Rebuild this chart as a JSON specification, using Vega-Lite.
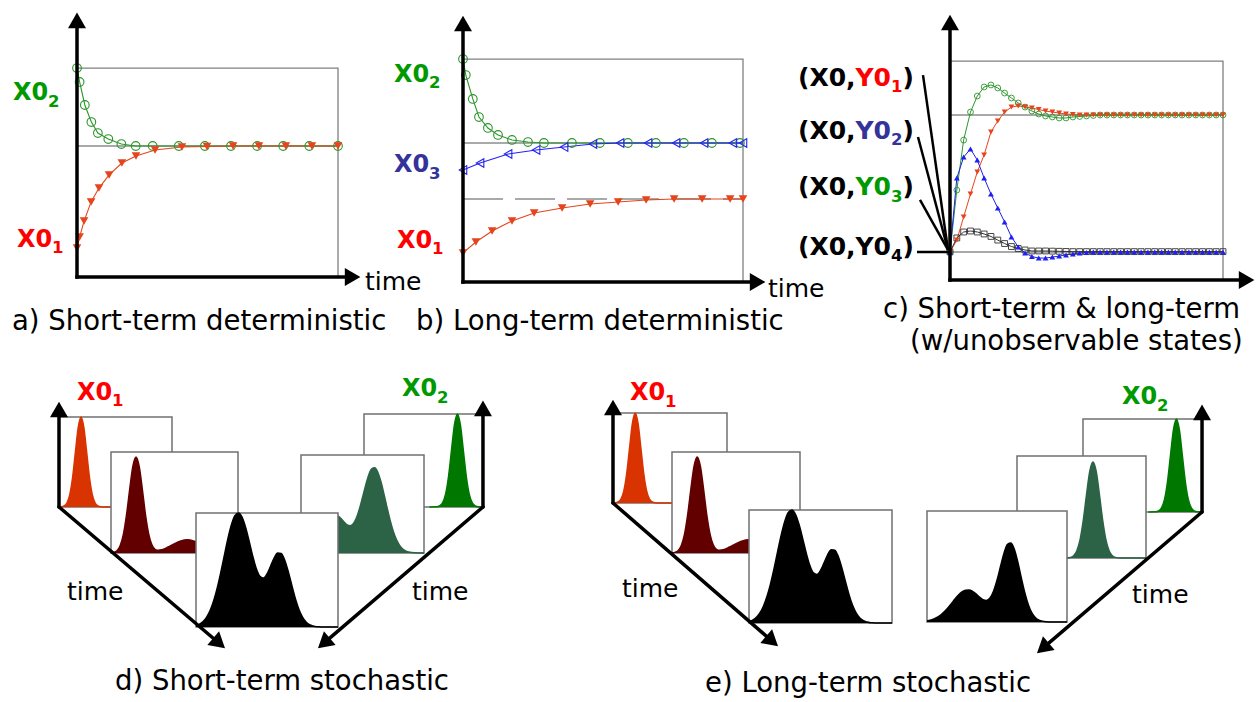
{
"$schema":"https://vega.github.io/schema/vega-lite/v6.json",
"background":"white",
"padding":0,
"config":{"view":{"stroke":null},"legend":{"disable":true},"text":{"font":"DejaVu Sans"},"area":{"opacity":1}},
"datasets":{
"curves":[
{"g":"a","s":"X0_2","t":0,"v":1.595},{"g":"a","s":"X0_2","t":0.1,"v":1.489},{"g":"a","s":"X0_2","t":0.3,"v":1.313},{"g":"a","s":"X0_2","t":0.55,"v":1.183},{"g":"a","s":"X0_2","t":0.8,"v":1.099},{"g":"a","s":"X0_2","t":1.2,"v":1.053},{"g":"a","s":"X0_2","t":1.7,"v":1.015},{"g":"a","s":"X0_2","t":2.25,"v":1.0},{"g":"a","s":"X0_2","t":2.9,"v":1.0},{"g":"a","s":"X0_2","t":3.9,"v":1.0},{"g":"a","s":"X0_2","t":4.9,"v":1.0},{"g":"a","s":"X0_2","t":5.9,"v":1.0},{"g":"a","s":"X0_2","t":6.9,"v":1.0},{"g":"a","s":"X0_2","t":7.9,"v":1.0},{"g":"a","s":"X0_2","t":8.9,"v":1.0},{"g":"a","s":"X0_2","t":10,"v":1.0},
{"g":"a","s":"X0_1","t":0,"v":0.221},{"g":"a","s":"X0_1","t":0.1,"v":0.305},{"g":"a","s":"X0_1","t":0.27,"v":0.427},{"g":"a","s":"X0_1","t":0.54,"v":0.573},{"g":"a","s":"X0_1","t":0.84,"v":0.679},{"g":"a","s":"X0_1","t":1.23,"v":0.779},{"g":"a","s":"X0_1","t":1.72,"v":0.87},{"g":"a","s":"X0_1","t":2.26,"v":0.924},{"g":"a","s":"X0_1","t":2.99,"v":0.969},{"g":"a","s":"X0_1","t":4.02,"v":0.992},{"g":"a","s":"X0_1","t":4.98,"v":0.996},{"g":"a","s":"X0_1","t":5.98,"v":1.0},{"g":"a","s":"X0_1","t":6.97,"v":1.0},{"g":"a","s":"X0_1","t":8.0,"v":1.0},{"g":"a","s":"X0_1","t":9.0,"v":1.0},{"g":"a","s":"X0_1","t":10,"v":1.0},
{"g":"b","s":"X0_2","t":0,"v":1.604},{"g":"b","s":"X0_2","t":0.1,"v":1.489},{"g":"b","s":"X0_2","t":0.35,"v":1.317},{"g":"b","s":"X0_2","t":0.57,"v":1.187},{"g":"b","s":"X0_2","t":0.89,"v":1.108},{"g":"b","s":"X0_2","t":1.25,"v":1.058},{"g":"b","s":"X0_2","t":1.75,"v":1.022},{"g":"b","s":"X0_2","t":2.32,"v":1.007},{"g":"b","s":"X0_2","t":2.89,"v":1.0},{"g":"b","s":"X0_2","t":3.89,"v":1.0},{"g":"b","s":"X0_2","t":4.89,"v":1.0},{"g":"b","s":"X0_2","t":5.89,"v":1.0},{"g":"b","s":"X0_2","t":6.89,"v":1.0},{"g":"b","s":"X0_2","t":7.89,"v":1.0},{"g":"b","s":"X0_2","t":8.89,"v":1.0},{"g":"b","s":"X0_2","t":9.89,"v":1.0},
{"g":"b","s":"X0_3","t":0,"v":0.806},{"g":"b","s":"X0_3","t":0.61,"v":0.856},{"g":"b","s":"X0_3","t":1.61,"v":0.921},{"g":"b","s":"X0_3","t":2.61,"v":0.95},{"g":"b","s":"X0_3","t":3.61,"v":0.971},{"g":"b","s":"X0_3","t":4.64,"v":0.993},{"g":"b","s":"X0_3","t":5.61,"v":1.0},{"g":"b","s":"X0_3","t":6.61,"v":1.0},{"g":"b","s":"X0_3","t":7.61,"v":1.0},{"g":"b","s":"X0_3","t":8.61,"v":1.0},{"g":"b","s":"X0_3","t":9.64,"v":1.0},{"g":"b","s":"X0_3","t":10,"v":1.0},
{"g":"b","s":"X0_1","t":0,"v":0.209},{"g":"b","s":"X0_1","t":0.46,"v":0.288},{"g":"b","s":"X0_1","t":1.04,"v":0.367},{"g":"b","s":"X0_1","t":1.75,"v":0.439},{"g":"b","s":"X0_1","t":2.54,"v":0.496},{"g":"b","s":"X0_1","t":3.54,"v":0.532},{"g":"b","s":"X0_1","t":4.54,"v":0.561},{"g":"b","s":"X0_1","t":5.54,"v":0.576},{"g":"b","s":"X0_1","t":6.54,"v":0.59},{"g":"b","s":"X0_1","t":7.54,"v":0.597},{"g":"b","s":"X0_1","t":8.54,"v":0.597},{"g":"b","s":"X0_1","t":9.54,"v":0.597},{"g":"b","s":"X0_1","t":10,"v":0.597},
{"g":"c","s":"Y0_3","t":0,"v":0.17},{"g":"c","s":"Y0_3","t":0.25,"v":0.545},{"g":"c","s":"Y0_3","t":0.5,"v":0.848},{"g":"c","s":"Y0_3","t":0.75,"v":1.018},{"g":"c","s":"Y0_3","t":1,"v":1.115},{"g":"c","s":"Y0_3","t":1.25,"v":1.17},{"g":"c","s":"Y0_3","t":1.5,"v":1.182},{"g":"c","s":"Y0_3","t":1.75,"v":1.164},{"g":"c","s":"Y0_3","t":2,"v":1.133},{"g":"c","s":"Y0_3","t":2.25,"v":1.103},{"g":"c","s":"Y0_3","t":2.5,"v":1.073},{"g":"c","s":"Y0_3","t":2.75,"v":1.048},{"g":"c","s":"Y0_3","t":3,"v":1.024},{"g":"c","s":"Y0_3","t":3.25,"v":1.006},{"g":"c","s":"Y0_3","t":3.5,"v":0.994},{"g":"c","s":"Y0_3","t":3.75,"v":0.988},{"g":"c","s":"Y0_3","t":4,"v":0.982},{"g":"c","s":"Y0_3","t":4.25,"v":0.982},{"g":"c","s":"Y0_3","t":4.5,"v":0.988},{"g":"c","s":"Y0_3","t":4.75,"v":0.991},{"g":"c","s":"Y0_3","t":5,"v":0.994},{"g":"c","s":"Y0_3","t":5.25,"v":0.997},{"g":"c","s":"Y0_3","t":5.5,"v":1.0},{"g":"c","s":"Y0_3","t":5.75,"v":1.0},{"g":"c","s":"Y0_3","t":6,"v":1.0},{"g":"c","s":"Y0_3","t":6.25,"v":1.0},{"g":"c","s":"Y0_3","t":6.5,"v":1.0},{"g":"c","s":"Y0_3","t":6.75,"v":1.0},{"g":"c","s":"Y0_3","t":7,"v":1.0},{"g":"c","s":"Y0_3","t":7.25,"v":1.0},{"g":"c","s":"Y0_3","t":7.5,"v":1.0},{"g":"c","s":"Y0_3","t":7.75,"v":1.0},{"g":"c","s":"Y0_3","t":8,"v":1.0},{"g":"c","s":"Y0_3","t":8.25,"v":1.0},{"g":"c","s":"Y0_3","t":8.5,"v":1.0},{"g":"c","s":"Y0_3","t":8.75,"v":1.0},{"g":"c","s":"Y0_3","t":9,"v":1.0},{"g":"c","s":"Y0_3","t":9.25,"v":1.0},{"g":"c","s":"Y0_3","t":9.5,"v":1.0},{"g":"c","s":"Y0_3","t":9.75,"v":1.0},{"g":"c","s":"Y0_3","t":10,"v":1.0},
{"g":"c","s":"Y0_1","t":0,"v":0.17},{"g":"c","s":"Y0_1","t":0.25,"v":0.242},{"g":"c","s":"Y0_1","t":0.5,"v":0.382},{"g":"c","s":"Y0_1","t":0.75,"v":0.521},{"g":"c","s":"Y0_1","t":1,"v":0.655},{"g":"c","s":"Y0_1","t":1.25,"v":0.758},{"g":"c","s":"Y0_1","t":1.5,"v":0.897},{"g":"c","s":"Y0_1","t":1.75,"v":0.964},{"g":"c","s":"Y0_1","t":2,"v":1.018},{"g":"c","s":"Y0_1","t":2.25,"v":1.048},{"g":"c","s":"Y0_1","t":2.5,"v":1.055},{"g":"c","s":"Y0_1","t":2.75,"v":1.048},{"g":"c","s":"Y0_1","t":3,"v":1.042},{"g":"c","s":"Y0_1","t":3.25,"v":1.033},{"g":"c","s":"Y0_1","t":3.5,"v":1.024},{"g":"c","s":"Y0_1","t":3.75,"v":1.018},{"g":"c","s":"Y0_1","t":4,"v":1.012},{"g":"c","s":"Y0_1","t":4.25,"v":1.006},{"g":"c","s":"Y0_1","t":4.5,"v":1.003},{"g":"c","s":"Y0_1","t":4.75,"v":1.0},{"g":"c","s":"Y0_1","t":5,"v":1.0},{"g":"c","s":"Y0_1","t":5.25,"v":1.0},{"g":"c","s":"Y0_1","t":5.5,"v":1.0},{"g":"c","s":"Y0_1","t":5.75,"v":1.0},{"g":"c","s":"Y0_1","t":6,"v":1.0},{"g":"c","s":"Y0_1","t":6.25,"v":1.0},{"g":"c","s":"Y0_1","t":6.5,"v":1.0},{"g":"c","s":"Y0_1","t":6.75,"v":1.0},{"g":"c","s":"Y0_1","t":7,"v":1.0},{"g":"c","s":"Y0_1","t":7.25,"v":1.0},{"g":"c","s":"Y0_1","t":7.5,"v":1.0},{"g":"c","s":"Y0_1","t":7.75,"v":1.0},{"g":"c","s":"Y0_1","t":8,"v":1.0},{"g":"c","s":"Y0_1","t":8.25,"v":1.0},{"g":"c","s":"Y0_1","t":8.5,"v":1.0},{"g":"c","s":"Y0_1","t":8.75,"v":1.0},{"g":"c","s":"Y0_1","t":9,"v":1.0},{"g":"c","s":"Y0_1","t":9.25,"v":1.0},{"g":"c","s":"Y0_1","t":9.5,"v":1.0},{"g":"c","s":"Y0_1","t":9.75,"v":1.0},{"g":"c","s":"Y0_1","t":10,"v":1.0},
{"g":"c","s":"Y0_2","t":0,"v":0.17},{"g":"c","s":"Y0_2","t":0.25,"v":0.618},{"g":"c","s":"Y0_2","t":0.5,"v":0.745},{"g":"c","s":"Y0_2","t":0.75,"v":0.794},{"g":"c","s":"Y0_2","t":1,"v":0.727},{"g":"c","s":"Y0_2","t":1.25,"v":0.618},{"g":"c","s":"Y0_2","t":1.5,"v":0.521},{"g":"c","s":"Y0_2","t":1.75,"v":0.436},{"g":"c","s":"Y0_2","t":2,"v":0.352},{"g":"c","s":"Y0_2","t":2.25,"v":0.261},{"g":"c","s":"Y0_2","t":2.5,"v":0.2},{"g":"c","s":"Y0_2","t":2.75,"v":0.164},{"g":"c","s":"Y0_2","t":3,"v":0.142},{"g":"c","s":"Y0_2","t":3.25,"v":0.133},{"g":"c","s":"Y0_2","t":3.5,"v":0.133},{"g":"c","s":"Y0_2","t":3.75,"v":0.139},{"g":"c","s":"Y0_2","t":4,"v":0.145},{"g":"c","s":"Y0_2","t":4.25,"v":0.152},{"g":"c","s":"Y0_2","t":4.5,"v":0.158},{"g":"c","s":"Y0_2","t":4.75,"v":0.164},{"g":"c","s":"Y0_2","t":5,"v":0.167},{"g":"c","s":"Y0_2","t":5.25,"v":0.17},{"g":"c","s":"Y0_2","t":5.5,"v":0.17},{"g":"c","s":"Y0_2","t":5.75,"v":0.17},{"g":"c","s":"Y0_2","t":6,"v":0.17},{"g":"c","s":"Y0_2","t":6.25,"v":0.17},{"g":"c","s":"Y0_2","t":6.5,"v":0.17},{"g":"c","s":"Y0_2","t":6.75,"v":0.17},{"g":"c","s":"Y0_2","t":7,"v":0.17},{"g":"c","s":"Y0_2","t":7.25,"v":0.17},{"g":"c","s":"Y0_2","t":7.5,"v":0.17},{"g":"c","s":"Y0_2","t":7.75,"v":0.17},{"g":"c","s":"Y0_2","t":8,"v":0.17},{"g":"c","s":"Y0_2","t":8.25,"v":0.17},{"g":"c","s":"Y0_2","t":8.5,"v":0.17},{"g":"c","s":"Y0_2","t":8.75,"v":0.17},{"g":"c","s":"Y0_2","t":9,"v":0.17},{"g":"c","s":"Y0_2","t":9.25,"v":0.17},{"g":"c","s":"Y0_2","t":9.5,"v":0.17},{"g":"c","s":"Y0_2","t":9.75,"v":0.17},{"g":"c","s":"Y0_2","t":10,"v":0.17},
{"g":"c","s":"Y0_4","t":0,"v":0.17},{"g":"c","s":"Y0_4","t":0.25,"v":0.255},{"g":"c","s":"Y0_4","t":0.5,"v":0.291},{"g":"c","s":"Y0_4","t":0.75,"v":0.297},{"g":"c","s":"Y0_4","t":1,"v":0.291},{"g":"c","s":"Y0_4","t":1.25,"v":0.279},{"g":"c","s":"Y0_4","t":1.5,"v":0.264},{"g":"c","s":"Y0_4","t":1.75,"v":0.242},{"g":"c","s":"Y0_4","t":2,"v":0.221},{"g":"c","s":"Y0_4","t":2.25,"v":0.203},{"g":"c","s":"Y0_4","t":2.5,"v":0.191},{"g":"c","s":"Y0_4","t":2.75,"v":0.182},{"g":"c","s":"Y0_4","t":3,"v":0.176},{"g":"c","s":"Y0_4","t":3.25,"v":0.176},{"g":"c","s":"Y0_4","t":3.5,"v":0.176},{"g":"c","s":"Y0_4","t":3.75,"v":0.175},{"g":"c","s":"Y0_4","t":4,"v":0.174},{"g":"c","s":"Y0_4","t":4.25,"v":0.173},{"g":"c","s":"Y0_4","t":4.5,"v":0.172},{"g":"c","s":"Y0_4","t":4.75,"v":0.172},{"g":"c","s":"Y0_4","t":5,"v":0.172},{"g":"c","s":"Y0_4","t":5.25,"v":0.172},{"g":"c","s":"Y0_4","t":5.5,"v":0.172},{"g":"c","s":"Y0_4","t":5.75,"v":0.172},{"g":"c","s":"Y0_4","t":6,"v":0.172},{"g":"c","s":"Y0_4","t":6.25,"v":0.172},{"g":"c","s":"Y0_4","t":6.5,"v":0.172},{"g":"c","s":"Y0_4","t":6.75,"v":0.172},{"g":"c","s":"Y0_4","t":7,"v":0.172},{"g":"c","s":"Y0_4","t":7.25,"v":0.172},{"g":"c","s":"Y0_4","t":7.5,"v":0.172},{"g":"c","s":"Y0_4","t":7.75,"v":0.172},{"g":"c","s":"Y0_4","t":8,"v":0.172},{"g":"c","s":"Y0_4","t":8.25,"v":0.172},{"g":"c","s":"Y0_4","t":8.5,"v":0.172},{"g":"c","s":"Y0_4","t":8.75,"v":0.172},{"g":"c","s":"Y0_4","t":9,"v":0.172},{"g":"c","s":"Y0_4","t":9.25,"v":0.172},{"g":"c","s":"Y0_4","t":9.5,"v":0.172},{"g":"c","s":"Y0_4","t":9.75,"v":0.172},{"g":"c","s":"Y0_4","t":10,"v":0.172}
],
"dists":[
{"d":"A0","s":0,"p":0.0005},{"d":"A0","s":0.02,"p":0.002},{"d":"A0","s":0.045,"p":0.011},{"d":"A0","s":0.07,"p":0.044},{"d":"A0","s":0.095,"p":0.135},{"d":"A0","s":0.12,"p":0.325},{"d":"A0","s":0.145,"p":0.607},{"d":"A0","s":0.17,"p":0.882},{"d":"A0","s":0.195,"p":1},{"d":"A0","s":0.22,"p":0.882},{"d":"A0","s":0.245,"p":0.607},{"d":"A0","s":0.27,"p":0.325},{"d":"A0","s":0.295,"p":0.135},{"d":"A0","s":0.32,"p":0.044},{"d":"A0","s":0.345,"p":0.011},{"d":"A0","s":0.37,"p":0.002},{"d":"A0","s":0.4,"p":0},{"d":"A0","s":1,"p":0},
{"d":"A1","s":0,"p":0.002},{"d":"A1","s":0.022,"p":0.006},{"d":"A1","s":0.047,"p":0.023},{"d":"A1","s":0.072,"p":0.072},{"d":"A1","s":0.097,"p":0.181},{"d":"A1","s":0.122,"p":0.375},{"d":"A1","s":0.147,"p":0.629},{"d":"A1","s":0.172,"p":0.857},{"d":"A1","s":0.197,"p":0.95},{"d":"A1","s":0.222,"p":0.857},{"d":"A1","s":0.247,"p":0.629},{"d":"A1","s":0.272,"p":0.375},{"d":"A1","s":0.297,"p":0.187},{"d":"A1","s":0.322,"p":0.081},{"d":"A1","s":0.347,"p":0.037},{"d":"A1","s":0.372,"p":0.027},{"d":"A1","s":0.4,"p":0.032},{"d":"A1","s":0.45,"p":0.06},{"d":"A1","s":0.5,"p":0.092},{"d":"A1","s":0.55,"p":0.119},{"d":"A1","s":0.6,"p":0.13},{"d":"A1","s":0.65,"p":0.119},{"d":"A1","s":0.7,"p":0.092},{"d":"A1","s":0.75,"p":0.06},{"d":"A1","s":0.8,"p":0.032},{"d":"A1","s":0.85,"p":0.015},{"d":"A1","s":0.9,"p":0.006},{"d":"A1","s":0.95,"p":0.0014},{"d":"A1","s":1,"p":0},
{"d":"A2","s":0,"p":0.0125},{"d":"A2","s":0.025,"p":0.0255},{"d":"A2","s":0.05,"p":0.0484},{"d":"A2","s":0.075,"p":0.0872},{"d":"A2","s":0.1,"p":0.1466},{"d":"A2","s":0.125,"p":0.2318},{"d":"A2","s":0.15,"p":0.3445},{"d":"A2","s":0.175,"p":0.481},{"d":"A2","s":0.2,"p":0.631},{"d":"A2","s":0.225,"p":0.777},{"d":"A2","s":0.25,"p":0.899},{"d":"A2","s":0.275,"p":0.978},{"d":"A2","s":0.3,"p":1},{"d":"A2","s":0.325,"p":0.962},{"d":"A2","s":0.35,"p":0.871},{"d":"A2","s":0.375,"p":0.749},{"d":"A2","s":0.4,"p":0.62},{"d":"A2","s":0.425,"p":0.511},{"d":"A2","s":0.45,"p":0.444},{"d":"A2","s":0.475,"p":0.429},{"d":"A2","s":0.5,"p":0.465},{"d":"A2","s":0.525,"p":0.533},{"d":"A2","s":0.55,"p":0.604},{"d":"A2","s":0.575,"p":0.649},{"d":"A2","s":0.6,"p":0.645},{"d":"A2","s":0.625,"p":0.586},{"d":"A2","s":0.65,"p":0.485},{"d":"A2","s":0.675,"p":0.365},{"d":"A2","s":0.7,"p":0.249},{"d":"A2","s":0.725,"p":0.154},{"d":"A2","s":0.75,"p":0.087},{"d":"A2","s":0.775,"p":0.044},{"d":"A2","s":0.8,"p":0.02},{"d":"A2","s":0.825,"p":0.009},{"d":"A2","s":0.85,"p":0.003},{"d":"A2","s":0.875,"p":0.001},{"d":"A2","s":0.9,"p":0},{"d":"A2","s":1,"p":0},
{"d":"B0","s":0.55,"p":0},{"d":"B0","s":0.61,"p":0.002},{"d":"B0","s":0.635,"p":0.011},{"d":"B0","s":0.66,"p":0.044},{"d":"B0","s":0.685,"p":0.135},{"d":"B0","s":0.71,"p":0.325},{"d":"B0","s":0.735,"p":0.607},{"d":"B0","s":0.76,"p":0.882},{"d":"B0","s":0.785,"p":1},{"d":"B0","s":0.81,"p":0.882},{"d":"B0","s":0.835,"p":0.607},{"d":"B0","s":0.86,"p":0.325},{"d":"B0","s":0.885,"p":0.135},{"d":"B0","s":0.91,"p":0.044},{"d":"B0","s":0.935,"p":0.011},{"d":"B0","s":0.96,"p":0.002},{"d":"B0","s":1,"p":0},
{"d":"B1d","s":0,"p":0.01},{"d":"B1d","s":0.05,"p":0.035},{"d":"B1d","s":0.1,"p":0.092},{"d":"B1d","s":0.15,"p":0.19},{"d":"B1d","s":0.2,"p":0.305},{"d":"B1d","s":0.25,"p":0.383},{"d":"B1d","s":0.275,"p":0.393},{"d":"B1d","s":0.3,"p":0.38},{"d":"B1d","s":0.325,"p":0.352},{"d":"B1d","s":0.35,"p":0.316},{"d":"B1d","s":0.375,"p":0.287},{"d":"B1d","s":0.4,"p":0.278},{"d":"B1d","s":0.425,"p":0.299},{"d":"B1d","s":0.45,"p":0.357},{"d":"B1d","s":0.475,"p":0.45},{"d":"B1d","s":0.5,"p":0.567},{"d":"B1d","s":0.525,"p":0.688},{"d":"B1d","s":0.55,"p":0.794},{"d":"B1d","s":0.575,"p":0.858},{"d":"B1d","s":0.6,"p":0.87},{"d":"B1d","s":0.625,"p":0.822},{"d":"B1d","s":0.65,"p":0.727},{"d":"B1d","s":0.675,"p":0.599},{"d":"B1d","s":0.7,"p":0.461},{"d":"B1d","s":0.725,"p":0.332},{"d":"B1d","s":0.75,"p":0.222},{"d":"B1d","s":0.775,"p":0.139},{"d":"B1d","s":0.8,"p":0.081},{"d":"B1d","s":0.825,"p":0.044},{"d":"B1d","s":0.85,"p":0.022},{"d":"B1d","s":0.875,"p":0.011},{"d":"B1d","s":0.9,"p":0.005},{"d":"B1d","s":0.95,"p":0.001},{"d":"B1d","s":1,"p":0},
{"d":"B1e","s":0,"p":0},{"d":"B1e","s":0.35,"p":0},{"d":"B1e","s":0.414,"p":0.006},{"d":"B1e","s":0.439,"p":0.023},{"d":"B1e","s":0.464,"p":0.071},{"d":"B1e","s":0.489,"p":0.18},{"d":"B1e","s":0.514,"p":0.371},{"d":"B1e","s":0.539,"p":0.622},{"d":"B1e","s":0.564,"p":0.848},{"d":"B1e","s":0.589,"p":0.94},{"d":"B1e","s":0.614,"p":0.848},{"d":"B1e","s":0.639,"p":0.622},{"d":"B1e","s":0.664,"p":0.371},{"d":"B1e","s":0.689,"p":0.18},{"d":"B1e","s":0.714,"p":0.071},{"d":"B1e","s":0.739,"p":0.023},{"d":"B1e","s":0.764,"p":0.006},{"d":"B1e","s":0.8,"p":0},{"d":"B1e","s":1,"p":0},
{"d":"B2e","s":0,"p":0.009},{"d":"B2e","s":0.05,"p":0.027},{"d":"B2e","s":0.1,"p":0.065},{"d":"B2e","s":0.125,"p":0.094},{"d":"B2e","s":0.15,"p":0.128},{"d":"B2e","s":0.175,"p":0.167},{"d":"B2e","s":0.2,"p":0.207},{"d":"B2e","s":0.225,"p":0.243},{"d":"B2e","s":0.25,"p":0.271},{"d":"B2e","s":0.275,"p":0.287},{"d":"B2e","s":0.3,"p":0.288},{"d":"B2e","s":0.325,"p":0.276},{"d":"B2e","s":0.35,"p":0.253},{"d":"B2e","s":0.375,"p":0.224},{"d":"B2e","s":0.4,"p":0.201},{"d":"B2e","s":0.425,"p":0.194},{"d":"B2e","s":0.45,"p":0.216},{"d":"B2e","s":0.475,"p":0.277},{"d":"B2e","s":0.5,"p":0.376},{"d":"B2e","s":0.525,"p":0.5},{"d":"B2e","s":0.55,"p":0.62},{"d":"B2e","s":0.575,"p":0.7},{"d":"B2e","s":0.6,"p":0.712},{"d":"B2e","s":0.625,"p":0.651},{"d":"B2e","s":0.65,"p":0.533},{"d":"B2e","s":0.675,"p":0.39},{"d":"B2e","s":0.7,"p":0.257},{"d":"B2e","s":0.725,"p":0.151},{"d":"B2e","s":0.75,"p":0.079},{"d":"B2e","s":0.775,"p":0.038},{"d":"B2e","s":0.8,"p":0.016},{"d":"B2e","s":0.825,"p":0.006},{"d":"B2e","s":0.85,"p":0.002},{"d":"B2e","s":0.9,"p":0},{"d":"B2e","s":1,"p":0}
],
"arrows":[
{"g":"a","kind":"shaft","x":0,"y":0,"x2":0,"y2":1.959},
{"g":"a","kind":"shaft","x":0,"y":0,"x2":10.56,"y2":0},
{"g":"a","kind":"head","dir":"up","x":0,"y":1.959},
{"g":"a","kind":"head","dir":"right","x":10.56,"y":0},
{"g":"b","kind":"shaft","x":0,"y":0,"x2":0,"y2":1.86},
{"g":"b","kind":"shaft","x":0,"y":0,"x2":10.521,"y2":0},
{"g":"b","kind":"head","dir":"up","x":0,"y":1.86},
{"g":"b","kind":"head","dir":"right","x":10.521,"y":0},
{"g":"c","kind":"shaft","x":0,"y":0,"x2":0,"y2":1.561},
{"g":"c","kind":"shaft","x":0,"y":0,"x2":10.864,"y2":0},
{"g":"c","kind":"head","dir":"up","x":0,"y":1.561},
{"g":"c","kind":"head","dir":"right","x":10.864,"y":0},
{"g":"c","kind":"leader","x":-0.989,"y":1.242,"x2":-0.073,"y2":0.182},
{"g":"c","kind":"leader","x":-1.172,"y":0.867,"x2":-0.073,"y2":0.182},
{"g":"c","kind":"leader","x":-1.099,"y":0.485,"x2":-0.073,"y2":0.182},
{"g":"c","kind":"leader","x":-1.209,"y":0.17,"x2":0,"y2":0.17},
{"g":"d","kind":"shaft","x":0,"y":0,"x2":0,"y2":1.084},
{"g":"d","kind":"shaft","x":0,"y":0,"x2":1.417,"y2":-1.514},
{"g":"d","kind":"shaft","x":3.752,"y":0,"x2":3.752,"y2":1.096},
{"g":"d","kind":"shaft","x":3.752,"y":0,"x2":2.344,"y2":-1.513},
{"g":"d","kind":"head","dir":"up","x":0,"y":1.084},
{"g":"d","kind":"head","dir":"up","x":3.752,"y":1.096},
{"g":"d","kind":"head","dir":"dr","x":1.417,"y":-1.514},
{"g":"d","kind":"head","dir":"dl","x":2.344,"y":-1.513},
{"g":"e","kind":"shaft","x":0,"y":0,"x2":0,"y2":1.062},
{"g":"e","kind":"shaft","x":0,"y":0,"x2":1.396,"y2":-1.536},
{"g":"e","kind":"shaft","x":5.167,"y":-0.1,"x2":5.167,"y2":1.007},
{"g":"e","kind":"shaft","x":5.167,"y":-0.1,"x2":3.771,"y2":-1.613},
{"g":"e","kind":"head","dir":"up","x":0,"y":1.062},
{"g":"e","kind":"head","dir":"up","x":5.167,"y":1.007},
{"g":"e","kind":"head","dir":"dr","x":1.396,"y":-1.536},
{"g":"e","kind":"head","dir":"dl","x":3.771,"y":-1.613}
],
"labels":[
{"g":"a","k":"2","x":-2.452,"y":1.351},
{"g":"a","k":"1","x":-2.299,"y":0.229},
{"g":"b","k":"2","x":-2.464,"y":1.439},
{"g":"b","k":"3","x":-2.464,"y":0.791},
{"g":"b","k":"1","x":-2.357,"y":0.245},
{"g":"c","k":"1","x":-5.568,"y":1.176},
{"g":"c","k":"2","x":-5.568,"y":0.855},
{"g":"c","k":"3","x":-5.568,"y":0.515},
{"g":"c","k":"4","x":-5.568,"y":0.152},
{"g":"d","k":"1","x":0.159,"y":1.189},
{"g":"d","k":"2","x":3.035,"y":1.233},
{"g":"e","k":"1","x":0.149,"y":1.144},
{"g":"e","k":"2","x":4.465,"y":1.1}
],
"texts":[
{"g":"a","kind":"time","x":11.034,"y":-0.099,"text":"time"},
{"g":"a","kind":"caption","x":-2.49,"y":-0.405,"text":"a) Short-term deterministic"},
{"g":"b","kind":"time","x":10.893,"y":-0.108,"text":"time"},
{"g":"b","kind":"caption","x":-1.679,"y":-0.345,"text":"b) Long-term deterministic"},
{"g":"c","kind":"caption","x":-2.454,"y":-0.23,"text":"c) Short-term & long-term"},
{"g":"c","kind":"caption","x":-1.465,"y":-0.424,"text":"(w/unobservable states)"},
{"g":"d","kind":"time","x":0.071,"y":-1.033,"text":"time"},
{"g":"d","kind":"time","x":3.124,"y":-1.033,"text":"time"},
{"g":"d","kind":"caption","x":0.496,"y":-2.033,"text":"d) Short-term stochastic"},
{"g":"e","kind":"time","x":0.079,"y":-1.044,"text":"time"},
{"g":"e","kind":"time","x":4.553,"y":-1.111,"text":"time"},
{"g":"e","kind":"caption","x":0.807,"y":-2.1,"text":"e) Long-term stochastic"}
]
},
"spacing":0,
"resolve":{"scale":{"color":"independent","shape":"independent"}},
"vconcat":[
{"spacing":0,"bounds":"flush","resolve":{"scale":{"color":"independent","shape":"independent"}},
"hconcat":[
{"width":390,"height":368,"resolve":{"scale":{"color":"independent"}},
"layer":[
{"data":{"values":[{}]},"mark":{"type":"rect","filled":false,"color":"#808080","strokeWidth":1.3},
"encoding":{"x":{"datum":0,"type":"quantitative","scale":{"domain":[-2.9502,11.9923],"nice":false,"zero":false},"axis":null},"x2":{"datum":10},"y":{"datum":0,"type":"quantitative","scale":{"domain":[-0.6947,2.1145],"nice":false,"zero":false},"axis":null},"y2":{"datum":1.595}}},
{"data":{"values":[{}]},"mark":{"type":"rule","color":"#555555","strokeWidth":1.1},
"encoding":{"x":{"datum":0,"type":"quantitative","scale":{"domain":[-2.9502,11.9923],"nice":false,"zero":false},"axis":null},"x2":{"datum":10},"y":{"datum":1,"type":"quantitative","scale":{"domain":[-0.6947,2.1145],"nice":false,"zero":false},"axis":null}}},
{"data":{"name":"curves"},"transform":[{"filter":"datum.g === 'a'"}],"mark":{"type":"line","strokeWidth":1.1},
"encoding":{"x":{"field":"t","type":"quantitative","scale":{"domain":[-2.9502,11.9923],"nice":false,"zero":false},"axis":null},"y":{"field":"v","type":"quantitative","scale":{"domain":[-0.6947,2.1145],"nice":false,"zero":false},"axis":null},"color":{"field":"s","type":"nominal","scale":{"domain":["X0_1","X0_2","X0_3","Y0_1","Y0_2","Y0_3","Y0_4"],"range":["#e5441c","#2b962b","#2323f5","#e5441c","#1f1ff0","#2b962b","#333333"]},"legend":null}}},
{"data":{"name":"curves"},"transform":[{"filter":"datum.g === 'a' && datum.s === 'X0_2'"}],"mark":{"type":"point","filled":false,"size":75,"strokeWidth":1.1,"opacity":1},
"encoding":{"x":{"field":"t","type":"quantitative","scale":{"domain":[-2.9502,11.9923],"nice":false,"zero":false},"axis":null},"y":{"field":"v","type":"quantitative","scale":{"domain":[-0.6947,2.1145],"nice":false,"zero":false},"axis":null},"color":{"field":"s","type":"nominal","scale":{"domain":["X0_1","X0_2","X0_3","Y0_1","Y0_2","Y0_3","Y0_4"],"range":["#e5441c","#2b962b","#2323f5","#e5441c","#1f1ff0","#2b962b","#333333"]},"legend":null},"shape":{"field":"s","type":"nominal","scale":{"domain":["X0_1","X0_2","X0_3","Y0_1","Y0_2","Y0_3","Y0_4"],"range":["triangle-down","circle","triangle-left","triangle-down","triangle-up","circle","square"]},"legend":null}}},
{"data":{"name":"curves"},"transform":[{"filter":"datum.g === 'a' && datum.s === 'X0_1'"}],"mark":{"type":"point","filled":true,"size":75,"opacity":1},
"encoding":{"x":{"field":"t","type":"quantitative","scale":{"domain":[-2.9502,11.9923],"nice":false,"zero":false},"axis":null},"y":{"field":"v","type":"quantitative","scale":{"domain":[-0.6947,2.1145],"nice":false,"zero":false},"axis":null},"color":{"field":"s","type":"nominal","scale":{"domain":["X0_1","X0_2","X0_3","Y0_1","Y0_2","Y0_3","Y0_4"],"range":["#e5441c","#2b962b","#2323f5","#e5441c","#1f1ff0","#2b962b","#333333"]},"legend":null},"shape":{"field":"s","type":"nominal","scale":{"domain":["X0_1","X0_2","X0_3","Y0_1","Y0_2","Y0_3","Y0_4"],"range":["triangle-down","circle","triangle-left","triangle-down","triangle-up","circle","square"]},"legend":null}}},
{"data":{"name":"arrows"},"transform":[{"filter":"datum.g === 'a' && datum.kind === 'shaft'"}],"mark":{"type":"rule","color":"black","strokeWidth":3.5,"strokeCap":"square"},
"encoding":{"x":{"field":"x","type":"quantitative","scale":{"domain":[-2.9502,11.9923],"nice":false,"zero":false},"axis":null},"y":{"field":"y","type":"quantitative","scale":{"domain":[-0.6947,2.1145],"nice":false,"zero":false},"axis":null},"x2":{"field":"x2"},"y2":{"field":"y2"}}},
{"data":{"name":"arrows"},"transform":[{"filter":"datum.g === 'a' && datum.dir === 'up'"}],"mark":{"type":"point","shape":"triangle-up","filled":true,"color":"black","size":324,"opacity":1},
"encoding":{"x":{"field":"x","type":"quantitative","scale":{"domain":[-2.9502,11.9923],"nice":false,"zero":false},"axis":null},"y":{"field":"y","type":"quantitative","scale":{"domain":[-0.6947,2.1145],"nice":false,"zero":false},"axis":null}}},
{"data":{"name":"arrows"},"transform":[{"filter":"datum.g === 'a' && datum.dir === 'right'"}],"mark":{"type":"point","shape":"triangle-right","filled":true,"color":"black","size":324,"opacity":1},
"encoding":{"x":{"field":"x","type":"quantitative","scale":{"domain":[-2.9502,11.9923],"nice":false,"zero":false},"axis":null},"y":{"field":"y","type":"quantitative","scale":{"domain":[-0.6947,2.1145],"nice":false,"zero":false},"axis":null}}},
{"data":{"name":"labels"},"transform":[{"filter":"datum.g === 'a'"}],"mark":{"type":"text","text":"X0","align":"left","baseline":"alphabetic","font":"DejaVu Sans","fontWeight":"bold","fontSize":24},
"encoding":{"x":{"field":"x","type":"quantitative","scale":{"domain":[-2.9502,11.9923],"nice":false,"zero":false},"axis":null},"y":{"field":"y","type":"quantitative","scale":{"domain":[-0.6947,2.1145],"nice":false,"zero":false},"axis":null},"color":{"field":"k","type":"nominal","scale":{"domain":["1","2","3"],"range":["#ff0000","#009a00","#333399"]},"legend":null}}},
{"data":{"name":"labels"},"transform":[{"filter":"datum.g === 'a'"}],"mark":{"type":"text","align":"left","baseline":"alphabetic","font":"DejaVu Sans","fontWeight":"bold","fontSize":16.5,"dx":35.1,"dy":6.5},
"encoding":{"x":{"field":"x","type":"quantitative","scale":{"domain":[-2.9502,11.9923],"nice":false,"zero":false},"axis":null},"y":{"field":"y","type":"quantitative","scale":{"domain":[-0.6947,2.1145],"nice":false,"zero":false},"axis":null},"text":{"field":"k"},"color":{"field":"k","type":"nominal","scale":{"domain":["1","2","3"],"range":["#ff0000","#009a00","#333399"]},"legend":null}}},
{"data":{"name":"texts"},"transform":[{"filter":"datum.g === 'a' && datum.kind === 'time'"}],"mark":{"type":"text","align":"left","baseline":"alphabetic","font":"DejaVu Sans","fontSize":25,"color":"black"},
"encoding":{"x":{"field":"x","type":"quantitative","scale":{"domain":[-2.9502,11.9923],"nice":false,"zero":false},"axis":null},"y":{"field":"y","type":"quantitative","scale":{"domain":[-0.6947,2.1145],"nice":false,"zero":false},"axis":null},"text":{"field":"text"}}},
{"data":{"name":"texts"},"transform":[{"filter":"datum.g === 'a' && datum.kind === 'caption'"}],"mark":{"type":"text","align":"left","baseline":"alphabetic","font":"DejaVu Sans","fontSize":27.5,"color":"black"},
"encoding":{"x":{"field":"x","type":"quantitative","scale":{"domain":[-2.9502,11.9923],"nice":false,"zero":false},"axis":null},"y":{"field":"y","type":"quantitative","scale":{"domain":[-0.6947,2.1145],"nice":false,"zero":false},"axis":null},"text":{"field":"text"}}}
]},
{"width":390,"height":368,"resolve":{"scale":{"color":"independent"}},
"layer":[
{"data":{"values":[{}]},"mark":{"type":"rect","filled":false,"color":"#808080","strokeWidth":1.3},
"encoding":{"x":{"datum":0,"type":"quantitative","scale":{"domain":[-2.6071,11.3214],"nice":false,"zero":false},"axis":null},"x2":{"datum":10},"y":{"datum":0,"type":"quantitative","scale":{"domain":[-0.6187,2.0288],"nice":false,"zero":false},"axis":null},"y2":{"datum":1.604}}},
{"data":{"values":[{}]},"mark":{"type":"rule","color":"#555555","strokeWidth":1.1},
"encoding":{"x":{"datum":0,"type":"quantitative","scale":{"domain":[-2.6071,11.3214],"nice":false,"zero":false},"axis":null},"x2":{"datum":10},"y":{"datum":1,"type":"quantitative","scale":{"domain":[-0.6187,2.0288],"nice":false,"zero":false},"axis":null}}},
{"data":{"values":[{}]},"mark":{"type":"rule","color":"#555555","strokeWidth":1.1,"strokeDash":[40,12]},
"encoding":{"x":{"datum":0,"type":"quantitative","scale":{"domain":[-2.6071,11.3214],"nice":false,"zero":false},"axis":null},"x2":{"datum":10},"y":{"datum":0.597,"type":"quantitative","scale":{"domain":[-0.6187,2.0288],"nice":false,"zero":false},"axis":null}}},
{"data":{"name":"curves"},"transform":[{"filter":"datum.g === 'b'"}],"mark":{"type":"line","strokeWidth":1.1},
"encoding":{"x":{"field":"t","type":"quantitative","scale":{"domain":[-2.6071,11.3214],"nice":false,"zero":false},"axis":null},"y":{"field":"v","type":"quantitative","scale":{"domain":[-0.6187,2.0288],"nice":false,"zero":false},"axis":null},"color":{"field":"s","type":"nominal","scale":{"domain":["X0_1","X0_2","X0_3","Y0_1","Y0_2","Y0_3","Y0_4"],"range":["#e5441c","#2b962b","#2323f5","#e5441c","#1f1ff0","#2b962b","#333333"]},"legend":null}}},
{"data":{"name":"curves"},"transform":[{"filter":"datum.g === 'b' && (datum.s === 'X0_2' || datum.s === 'X0_3')"}],"mark":{"type":"point","filled":false,"size":75,"strokeWidth":1.1,"opacity":1},
"encoding":{"x":{"field":"t","type":"quantitative","scale":{"domain":[-2.6071,11.3214],"nice":false,"zero":false},"axis":null},"y":{"field":"v","type":"quantitative","scale":{"domain":[-0.6187,2.0288],"nice":false,"zero":false},"axis":null},"color":{"field":"s","type":"nominal","scale":{"domain":["X0_1","X0_2","X0_3","Y0_1","Y0_2","Y0_3","Y0_4"],"range":["#e5441c","#2b962b","#2323f5","#e5441c","#1f1ff0","#2b962b","#333333"]},"legend":null},"shape":{"field":"s","type":"nominal","scale":{"domain":["X0_1","X0_2","X0_3","Y0_1","Y0_2","Y0_3","Y0_4"],"range":["triangle-down","circle","triangle-left","triangle-down","triangle-up","circle","square"]},"legend":null}}},
{"data":{"name":"curves"},"transform":[{"filter":"datum.g === 'b' && datum.s === 'X0_1'"}],"mark":{"type":"point","filled":true,"size":75,"opacity":1},
"encoding":{"x":{"field":"t","type":"quantitative","scale":{"domain":[-2.6071,11.3214],"nice":false,"zero":false},"axis":null},"y":{"field":"v","type":"quantitative","scale":{"domain":[-0.6187,2.0288],"nice":false,"zero":false},"axis":null},"color":{"field":"s","type":"nominal","scale":{"domain":["X0_1","X0_2","X0_3","Y0_1","Y0_2","Y0_3","Y0_4"],"range":["#e5441c","#2b962b","#2323f5","#e5441c","#1f1ff0","#2b962b","#333333"]},"legend":null},"shape":{"field":"s","type":"nominal","scale":{"domain":["X0_1","X0_2","X0_3","Y0_1","Y0_2","Y0_3","Y0_4"],"range":["triangle-down","circle","triangle-left","triangle-down","triangle-up","circle","square"]},"legend":null}}},
{"data":{"name":"arrows"},"transform":[{"filter":"datum.g === 'b' && datum.kind === 'shaft'"}],"mark":{"type":"rule","color":"black","strokeWidth":3.5,"strokeCap":"square"},
"encoding":{"x":{"field":"x","type":"quantitative","scale":{"domain":[-2.6071,11.3214],"nice":false,"zero":false},"axis":null},"y":{"field":"y","type":"quantitative","scale":{"domain":[-0.6187,2.0288],"nice":false,"zero":false},"axis":null},"x2":{"field":"x2"},"y2":{"field":"y2"}}},
{"data":{"name":"arrows"},"transform":[{"filter":"datum.g === 'b' && datum.dir === 'up'"}],"mark":{"type":"point","shape":"triangle-up","filled":true,"color":"black","size":324,"opacity":1},
"encoding":{"x":{"field":"x","type":"quantitative","scale":{"domain":[-2.6071,11.3214],"nice":false,"zero":false},"axis":null},"y":{"field":"y","type":"quantitative","scale":{"domain":[-0.6187,2.0288],"nice":false,"zero":false},"axis":null}}},
{"data":{"name":"arrows"},"transform":[{"filter":"datum.g === 'b' && datum.dir === 'right'"}],"mark":{"type":"point","shape":"triangle-right","filled":true,"color":"black","size":324,"opacity":1},
"encoding":{"x":{"field":"x","type":"quantitative","scale":{"domain":[-2.6071,11.3214],"nice":false,"zero":false},"axis":null},"y":{"field":"y","type":"quantitative","scale":{"domain":[-0.6187,2.0288],"nice":false,"zero":false},"axis":null}}},
{"data":{"name":"labels"},"transform":[{"filter":"datum.g === 'b'"}],"mark":{"type":"text","text":"X0","align":"left","baseline":"alphabetic","font":"DejaVu Sans","fontWeight":"bold","fontSize":24},
"encoding":{"x":{"field":"x","type":"quantitative","scale":{"domain":[-2.6071,11.3214],"nice":false,"zero":false},"axis":null},"y":{"field":"y","type":"quantitative","scale":{"domain":[-0.6187,2.0288],"nice":false,"zero":false},"axis":null},"color":{"field":"k","type":"nominal","scale":{"domain":["1","2","3"],"range":["#ff0000","#009a00","#333399"]},"legend":null}}},
{"data":{"name":"labels"},"transform":[{"filter":"datum.g === 'b'"}],"mark":{"type":"text","align":"left","baseline":"alphabetic","font":"DejaVu Sans","fontWeight":"bold","fontSize":16.5,"dx":35.1,"dy":6.5},
"encoding":{"x":{"field":"x","type":"quantitative","scale":{"domain":[-2.6071,11.3214],"nice":false,"zero":false},"axis":null},"y":{"field":"y","type":"quantitative","scale":{"domain":[-0.6187,2.0288],"nice":false,"zero":false},"axis":null},"text":{"field":"k"},"color":{"field":"k","type":"nominal","scale":{"domain":["1","2","3"],"range":["#ff0000","#009a00","#333399"]},"legend":null}}},
{"data":{"name":"texts"},"transform":[{"filter":"datum.g === 'b' && datum.kind === 'time'"}],"mark":{"type":"text","align":"left","baseline":"alphabetic","font":"DejaVu Sans","fontSize":25,"color":"black"},
"encoding":{"x":{"field":"x","type":"quantitative","scale":{"domain":[-2.6071,11.3214],"nice":false,"zero":false},"axis":null},"y":{"field":"y","type":"quantitative","scale":{"domain":[-0.6187,2.0288],"nice":false,"zero":false},"axis":null},"text":{"field":"text"}}},
{"data":{"name":"texts"},"transform":[{"filter":"datum.g === 'b' && datum.kind === 'caption'"}],"mark":{"type":"text","align":"left","baseline":"alphabetic","font":"DejaVu Sans","fontSize":27.5,"color":"black"},
"encoding":{"x":{"field":"x","type":"quantitative","scale":{"domain":[-2.6071,11.3214],"nice":false,"zero":false},"axis":null},"y":{"field":"y","type":"quantitative","scale":{"domain":[-0.6187,2.0288],"nice":false,"zero":false},"axis":null},"text":{"field":"text"}}}
]},
{"width":479,"height":368,"resolve":{"scale":{"color":"independent"}},
"layer":[
{"data":{"values":[{}]},"mark":{"type":"rect","filled":false,"color":"#808080","strokeWidth":1.3},
"encoding":{"x":{"datum":0,"type":"quantitative","scale":{"domain":[-6.2271,11.3187],"nice":false,"zero":false},"axis":null},"x2":{"datum":10},"y":{"datum":0,"type":"quantitative","scale":{"domain":[-0.5333,1.697],"nice":false,"zero":false},"axis":null},"y2":{"datum":1.327}}},
{"data":{"values":[{}]},"mark":{"type":"rule","color":"#555555","strokeWidth":1.1},
"encoding":{"x":{"datum":0,"type":"quantitative","scale":{"domain":[-6.2271,11.3187],"nice":false,"zero":false},"axis":null},"x2":{"datum":10},"y":{"datum":1,"type":"quantitative","scale":{"domain":[-0.5333,1.697],"nice":false,"zero":false},"axis":null}}},
{"data":{"values":[{}]},"mark":{"type":"rule","color":"#555555","strokeWidth":1.1},
"encoding":{"x":{"datum":0,"type":"quantitative","scale":{"domain":[-6.2271,11.3187],"nice":false,"zero":false},"axis":null},"x2":{"datum":10},"y":{"datum":0.17,"type":"quantitative","scale":{"domain":[-0.5333,1.697],"nice":false,"zero":false},"axis":null}}},
{"data":{"name":"curves"},"transform":[{"filter":"datum.g === 'c'"}],"mark":{"type":"line","strokeWidth":1},
"encoding":{"x":{"field":"t","type":"quantitative","scale":{"domain":[-6.2271,11.3187],"nice":false,"zero":false},"axis":null},"y":{"field":"v","type":"quantitative","scale":{"domain":[-0.5333,1.697],"nice":false,"zero":false},"axis":null},"color":{"field":"s","type":"nominal","scale":{"domain":["X0_1","X0_2","X0_3","Y0_1","Y0_2","Y0_3","Y0_4"],"range":["#e5441c","#2b962b","#2323f5","#e5441c","#1f1ff0","#2b962b","#333333"]},"legend":null}}},
{"data":{"name":"curves"},"transform":[{"filter":"datum.g === 'c' && (datum.s === 'Y0_3' || datum.s === 'Y0_4')"}],"mark":{"type":"point","filled":false,"size":34,"strokeWidth":0.9,"opacity":1},
"encoding":{"x":{"field":"t","type":"quantitative","scale":{"domain":[-6.2271,11.3187],"nice":false,"zero":false},"axis":null},"y":{"field":"v","type":"quantitative","scale":{"domain":[-0.5333,1.697],"nice":false,"zero":false},"axis":null},"color":{"field":"s","type":"nominal","scale":{"domain":["X0_1","X0_2","X0_3","Y0_1","Y0_2","Y0_3","Y0_4"],"range":["#e5441c","#2b962b","#2323f5","#e5441c","#1f1ff0","#2b962b","#333333"]},"legend":null},"shape":{"field":"s","type":"nominal","scale":{"domain":["X0_1","X0_2","X0_3","Y0_1","Y0_2","Y0_3","Y0_4"],"range":["triangle-down","circle","triangle-left","triangle-down","triangle-up","circle","square"]},"legend":null}}},
{"data":{"name":"curves"},"transform":[{"filter":"datum.g === 'c' && (datum.s === 'Y0_1' || datum.s === 'Y0_2')"}],"mark":{"type":"point","filled":true,"size":34,"opacity":1},
"encoding":{"x":{"field":"t","type":"quantitative","scale":{"domain":[-6.2271,11.3187],"nice":false,"zero":false},"axis":null},"y":{"field":"v","type":"quantitative","scale":{"domain":[-0.5333,1.697],"nice":false,"zero":false},"axis":null},"color":{"field":"s","type":"nominal","scale":{"domain":["X0_1","X0_2","X0_3","Y0_1","Y0_2","Y0_3","Y0_4"],"range":["#e5441c","#2b962b","#2323f5","#e5441c","#1f1ff0","#2b962b","#333333"]},"legend":null},"shape":{"field":"s","type":"nominal","scale":{"domain":["X0_1","X0_2","X0_3","Y0_1","Y0_2","Y0_3","Y0_4"],"range":["triangle-down","circle","triangle-left","triangle-down","triangle-up","circle","square"]},"legend":null}}},
{"data":{"name":"arrows"},"transform":[{"filter":"datum.g === 'c' && datum.kind === 'leader'"}],"mark":{"type":"rule","color":"black","strokeWidth":2.5},
"encoding":{"x":{"field":"x","type":"quantitative","scale":{"domain":[-6.2271,11.3187],"nice":false,"zero":false},"axis":null},"y":{"field":"y","type":"quantitative","scale":{"domain":[-0.5333,1.697],"nice":false,"zero":false},"axis":null},"x2":{"field":"x2"},"y2":{"field":"y2"}}},
{"data":{"name":"arrows"},"transform":[{"filter":"datum.g === 'c' && datum.kind === 'shaft'"}],"mark":{"type":"rule","color":"black","strokeWidth":3.5,"strokeCap":"square"},
"encoding":{"x":{"field":"x","type":"quantitative","scale":{"domain":[-6.2271,11.3187],"nice":false,"zero":false},"axis":null},"y":{"field":"y","type":"quantitative","scale":{"domain":[-0.5333,1.697],"nice":false,"zero":false},"axis":null},"x2":{"field":"x2"},"y2":{"field":"y2"}}},
{"data":{"name":"arrows"},"transform":[{"filter":"datum.g === 'c' && datum.dir === 'up'"}],"mark":{"type":"point","shape":"triangle-up","filled":true,"color":"black","size":324,"opacity":1},
"encoding":{"x":{"field":"x","type":"quantitative","scale":{"domain":[-6.2271,11.3187],"nice":false,"zero":false},"axis":null},"y":{"field":"y","type":"quantitative","scale":{"domain":[-0.5333,1.697],"nice":false,"zero":false},"axis":null}}},
{"data":{"name":"arrows"},"transform":[{"filter":"datum.g === 'c' && datum.dir === 'right'"}],"mark":{"type":"point","shape":"triangle-right","filled":true,"color":"black","size":324,"opacity":1},
"encoding":{"x":{"field":"x","type":"quantitative","scale":{"domain":[-6.2271,11.3187],"nice":false,"zero":false},"axis":null},"y":{"field":"y","type":"quantitative","scale":{"domain":[-0.5333,1.697],"nice":false,"zero":false},"axis":null}}},
{"data":{"name":"labels"},"transform":[{"filter":"datum.g === 'c'"}],"mark":{"type":"text","text":"(X0,","align":"left","baseline":"alphabetic","font":"DejaVu Sans","fontWeight":"bold","fontSize":25,"color":"black"},
"encoding":{"x":{"field":"x","type":"quantitative","scale":{"domain":[-6.2271,11.3187],"nice":false,"zero":false},"axis":null},"y":{"field":"y","type":"quantitative","scale":{"domain":[-0.5333,1.697],"nice":false,"zero":false},"axis":null}}},
{"data":{"name":"labels"},"transform":[{"filter":"datum.g === 'c'"}],"mark":{"type":"text","text":"Y0","align":"left","baseline":"alphabetic","font":"DejaVu Sans","fontWeight":"bold","fontSize":25,"dx":57.5},
"encoding":{"x":{"field":"x","type":"quantitative","scale":{"domain":[-6.2271,11.3187],"nice":false,"zero":false},"axis":null},"y":{"field":"y","type":"quantitative","scale":{"domain":[-0.5333,1.697],"nice":false,"zero":false},"axis":null},"color":{"field":"k","type":"nominal","scale":{"domain":["1","2","3","4"],"range":["#ff0000","#333399","#009a00","#000000"]},"legend":null}}},
{"data":{"name":"labels"},"transform":[{"filter":"datum.g === 'c'"}],"mark":{"type":"text","align":"left","baseline":"alphabetic","font":"DejaVu Sans","fontWeight":"bold","fontSize":16.5,"dx":93.1,"dy":6.5},
"encoding":{"x":{"field":"x","type":"quantitative","scale":{"domain":[-6.2271,11.3187],"nice":false,"zero":false},"axis":null},"y":{"field":"y","type":"quantitative","scale":{"domain":[-0.5333,1.697],"nice":false,"zero":false},"axis":null},"text":{"field":"k"},"color":{"field":"k","type":"nominal","scale":{"domain":["1","2","3","4"],"range":["#ff0000","#333399","#009a00","#000000"]},"legend":null}}},
{"data":{"name":"labels"},"transform":[{"filter":"datum.g === 'c'"}],"mark":{"type":"text","text":")","align":"left","baseline":"alphabetic","font":"DejaVu Sans","fontWeight":"bold","fontSize":25,"dx":104.6,"color":"black"},
"encoding":{"x":{"field":"x","type":"quantitative","scale":{"domain":[-6.2271,11.3187],"nice":false,"zero":false},"axis":null},"y":{"field":"y","type":"quantitative","scale":{"domain":[-0.5333,1.697],"nice":false,"zero":false},"axis":null}}},
{"data":{"name":"texts"},"transform":[{"filter":"datum.g === 'c' && datum.kind === 'caption'"}],"mark":{"type":"text","align":"left","baseline":"alphabetic","font":"DejaVu Sans","fontSize":27.5,"color":"black"},
"encoding":{"x":{"field":"x","type":"quantitative","scale":{"domain":[-6.2271,11.3187],"nice":false,"zero":false},"axis":null},"y":{"field":"y","type":"quantitative","scale":{"domain":[-0.5333,1.697],"nice":false,"zero":false},"axis":null},"text":{"field":"text"}}}
]}
]},
{"spacing":0,"bounds":"flush","resolve":{"scale":{"color":"independent","shape":"independent"}},
"hconcat":[
{"width":600,"height":334,"resolve":{"scale":{"x":"independent","y":"independent"}},
"layer":[
{"layer":[
{"data":{"values":[{}]},"mark":{"type":"rect","fill":"white","stroke":"#707070","strokeWidth":1.5},"encoding":{"x":{"datum":0,"type":"quantitative","scale":{"domain":[-0.5221,4.7876],"nice":false,"zero":false},"axis":null},"x2":{"datum":1},"y":{"datum":0,"type":"quantitative","scale":{"domain":[-2.1667,1.5444],"nice":false,"zero":false},"axis":null},"y2":{"datum":1}}},
{"data":{"name":"dists"},"transform":[{"filter":"datum.d === 'A0'"}],"mark":{"type":"area","color":"#d83300","opacity":1,"interpolate":"monotone","line":{"color":"#d83300","strokeWidth":1.5}},"encoding":{"x":{"field":"s","type":"quantitative","scale":{"domain":[-0.5221,4.7876],"nice":false,"zero":false},"axis":null},"y":{"field":"p","type":"quantitative","scale":{"domain":[-2.1667,1.5444],"nice":false,"zero":false},"axis":null},"y2":{"datum":0}}}
]},
{"layer":[
{"data":{"values":[{}]},"mark":{"type":"rect","fill":"white","stroke":"#707070","strokeWidth":1.5},"encoding":{"x":{"datum":0,"type":"quantitative","scale":{"domain":[-0.874,3.8504],"nice":false,"zero":false},"axis":null},"x2":{"datum":1},"y":{"datum":0,"type":"quantitative","scale":{"domain":[-1.4752,1.8317],"nice":false,"zero":false},"axis":null},"y2":{"datum":1}}},
{"data":{"name":"dists"},"transform":[{"filter":"datum.d === 'A1'"}],"mark":{"type":"area","color":"#620000","opacity":1,"interpolate":"monotone","line":{"color":"#620000","strokeWidth":1.5}},"encoding":{"x":{"field":"s","type":"quantitative","scale":{"domain":[-0.874,3.8504],"nice":false,"zero":false},"axis":null},"y":{"field":"p","type":"quantitative","scale":{"domain":[-1.4752,1.8317],"nice":false,"zero":false},"axis":null},"y2":{"datum":0}}}
]},
{"layer":[
{"data":{"values":[{}]},"mark":{"type":"rect","fill":"white","stroke":"#707070","strokeWidth":1.5},"encoding":{"x":{"datum":0,"type":"quantitative","scale":{"domain":[-3.0588,1.9832],"nice":false,"zero":false},"axis":null},"x2":{"datum":1},"y":{"datum":0,"type":"quantitative","scale":{"domain":[-2.0968,1.4946],"nice":false,"zero":false},"axis":null},"y2":{"datum":1}}},
{"data":{"name":"dists"},"transform":[{"filter":"datum.d === 'B0'"}],"mark":{"type":"area","color":"#007800","opacity":1,"interpolate":"monotone","line":{"color":"#007800","strokeWidth":1.5}},"encoding":{"x":{"field":"s","type":"quantitative","scale":{"domain":[-3.0588,1.9832],"nice":false,"zero":false},"axis":null},"y":{"field":"p","type":"quantitative","scale":{"domain":[-2.0968,1.4946],"nice":false,"zero":false},"axis":null},"y2":{"datum":0}}}
]},
{"layer":[
{"data":{"values":[{}]},"mark":{"type":"rect","fill":"white","stroke":"#707070","strokeWidth":1.5},"encoding":{"x":{"datum":0,"type":"quantitative","scale":{"domain":[-2.4472,2.4309],"nice":false,"zero":false},"axis":null},"x2":{"datum":1},"y":{"datum":0,"type":"quantitative","scale":{"domain":[-1.5204,1.8878],"nice":false,"zero":false},"axis":null},"y2":{"datum":1}}},
{"data":{"name":"dists"},"transform":[{"filter":"datum.d === 'B1d'"}],"mark":{"type":"area","color":"#2c6347","opacity":1,"interpolate":"monotone","line":{"color":"#2c6347","strokeWidth":1.5}},"encoding":{"x":{"field":"s","type":"quantitative","scale":{"domain":[-2.4472,2.4309],"nice":false,"zero":false},"axis":null},"y":{"field":"p","type":"quantitative","scale":{"domain":[-1.5204,1.8878],"nice":false,"zero":false},"axis":null},"y2":{"datum":0}}}
]},
{"layer":[
{"data":{"values":[{}]},"mark":{"type":"rect","fill":"white","stroke":"#707070","strokeWidth":1.5},"encoding":{"x":{"datum":0,"type":"quantitative","scale":{"domain":[-1.3803,2.8451],"nice":false,"zero":false},"axis":null},"x2":{"datum":1},"y":{"datum":0,"type":"quantitative","scale":{"domain":[-0.6579,2.2719],"nice":false,"zero":false},"axis":null},"y2":{"datum":1}}},
{"data":{"name":"dists"},"transform":[{"filter":"datum.d === 'A2'"}],"mark":{"type":"area","color":"#000000","opacity":1,"interpolate":"monotone","line":{"color":"#000000","strokeWidth":1.5}},"encoding":{"x":{"field":"s","type":"quantitative","scale":{"domain":[-1.3803,2.8451],"nice":false,"zero":false},"axis":null},"y":{"field":"p","type":"quantitative","scale":{"domain":[-0.6579,2.2719],"nice":false,"zero":false},"axis":null},"y2":{"datum":0}}}
]},
{"layer":[
{"data":{"name":"arrows"},"transform":[{"filter":"datum.g === 'd' && datum.kind === 'shaft'"}],"mark":{"type":"rule","color":"black","strokeWidth":3.5,"strokeCap":"round"},"encoding":{"x":{"field":"x","type":"quantitative","scale":{"domain":[-0.5221,4.7876],"nice":false,"zero":false},"axis":null},"y":{"field":"y","type":"quantitative","scale":{"domain":[-2.1667,1.5444],"nice":false,"zero":false},"axis":null},"x2":{"field":"x2"},"y2":{"field":"y2"}}},
{"data":{"name":"arrows"},"transform":[{"filter":"datum.g === 'd' && datum.dir === 'up'"}],"mark":{"type":"point","shape":"triangle-up","filled":true,"color":"black","size":324,"opacity":1},"encoding":{"x":{"field":"x","type":"quantitative","scale":{"domain":[-0.5221,4.7876],"nice":false,"zero":false},"axis":null},"y":{"field":"y","type":"quantitative","scale":{"domain":[-2.1667,1.5444],"nice":false,"zero":false},"axis":null}}},
{"data":{"name":"arrows"},"transform":[{"filter":"datum.g === 'd' && datum.dir === 'dr'"}],"mark":{"type":"point","shape":"triangle-up","filled":true,"color":"black","size":324,"opacity":1,"angle":130.7},"encoding":{"x":{"field":"x","type":"quantitative","scale":{"domain":[-0.5221,4.7876],"nice":false,"zero":false},"axis":null},"y":{"field":"y","type":"quantitative","scale":{"domain":[-2.1667,1.5444],"nice":false,"zero":false},"axis":null}}},
{"data":{"name":"arrows"},"transform":[{"filter":"datum.g === 'd' && datum.dir === 'dl'"}],"mark":{"type":"point","shape":"triangle-up","filled":true,"color":"black","size":324,"opacity":1,"angle":229.4},"encoding":{"x":{"field":"x","type":"quantitative","scale":{"domain":[-0.5221,4.7876],"nice":false,"zero":false},"axis":null},"y":{"field":"y","type":"quantitative","scale":{"domain":[-2.1667,1.5444],"nice":false,"zero":false},"axis":null}}},
{"data":{"name":"labels"},"transform":[{"filter":"datum.g === 'd'"}],"mark":{"type":"text","text":"X0","align":"left","baseline":"alphabetic","font":"DejaVu Sans","fontWeight":"bold","fontSize":24},"encoding":{"x":{"field":"x","type":"quantitative","scale":{"domain":[-0.5221,4.7876],"nice":false,"zero":false},"axis":null},"y":{"field":"y","type":"quantitative","scale":{"domain":[-2.1667,1.5444],"nice":false,"zero":false},"axis":null},"color":{"field":"k","type":"nominal","scale":{"domain":["1","2","3"],"range":["#ff0000","#009a00","#333399"]},"legend":null}}},
{"data":{"name":"labels"},"transform":[{"filter":"datum.g === 'd'"}],"mark":{"type":"text","align":"left","baseline":"alphabetic","font":"DejaVu Sans","fontWeight":"bold","fontSize":16.5,"dx":35.1,"dy":6.5},"encoding":{"x":{"field":"x","type":"quantitative","scale":{"domain":[-0.5221,4.7876],"nice":false,"zero":false},"axis":null},"y":{"field":"y","type":"quantitative","scale":{"domain":[-2.1667,1.5444],"nice":false,"zero":false},"axis":null},"text":{"field":"k"},"color":{"field":"k","type":"nominal","scale":{"domain":["1","2","3"],"range":["#ff0000","#009a00","#333399"]},"legend":null}}},
{"data":{"name":"texts"},"transform":[{"filter":"datum.g === 'd' && datum.kind === 'time'"}],"mark":{"type":"text","align":"left","baseline":"alphabetic","font":"DejaVu Sans","fontSize":25,"color":"black"},"encoding":{"x":{"field":"x","type":"quantitative","scale":{"domain":[-0.5221,4.7876],"nice":false,"zero":false},"axis":null},"y":{"field":"y","type":"quantitative","scale":{"domain":[-2.1667,1.5444],"nice":false,"zero":false},"axis":null},"text":{"field":"text"}}},
{"data":{"name":"texts"},"transform":[{"filter":"datum.g === 'd' && datum.kind === 'caption'"}],"mark":{"type":"text","align":"left","baseline":"alphabetic","font":"DejaVu Sans","fontSize":27.5,"color":"black"},"encoding":{"x":{"field":"x","type":"quantitative","scale":{"domain":[-0.5221,4.7876],"nice":false,"zero":false},"axis":null},"y":{"field":"y","type":"quantitative","scale":{"domain":[-2.1667,1.5444],"nice":false,"zero":false},"axis":null},"text":{"field":"text"}}}
]}
]},
{"width":659,"height":334,"resolve":{"scale":{"x":"independent","y":"independent"}},
"layer":[
{"layer":[
{"data":{"values":[{}]},"mark":{"type":"rect","fill":"white","stroke":"#707070","strokeWidth":1.5},"encoding":{"x":{"datum":0,"type":"quantitative","scale":{"domain":[-0.114,5.6667],"nice":false,"zero":false},"axis":null},"x2":{"datum":1},"y":{"datum":0,"type":"quantitative","scale":{"domain":[-2.2111,1.5],"nice":false,"zero":false},"axis":null},"y2":{"datum":1}}},
{"data":{"name":"dists"},"transform":[{"filter":"datum.d === 'A0'"}],"mark":{"type":"area","color":"#d83300","opacity":1,"interpolate":"monotone","line":{"color":"#d83300","strokeWidth":1.5}},"encoding":{"x":{"field":"s","type":"quantitative","scale":{"domain":[-0.114,5.6667],"nice":false,"zero":false},"axis":null},"y":{"field":"p","type":"quantitative","scale":{"domain":[-2.2111,1.5],"nice":false,"zero":false},"axis":null},"y2":{"datum":0}}}
]},
{"layer":[
{"data":{"values":[{}]},"mark":{"type":"rect","fill":"white","stroke":"#707070","strokeWidth":1.5},"encoding":{"x":{"datum":0,"type":"quantitative","scale":{"domain":[-0.5625,4.5859],"nice":false,"zero":false},"axis":null},"x2":{"datum":1},"y":{"datum":0,"type":"quantitative","scale":{"domain":[-1.4752,1.8317],"nice":false,"zero":false},"axis":null},"y2":{"datum":1}}},
{"data":{"name":"dists"},"transform":[{"filter":"datum.d === 'A1'"}],"mark":{"type":"area","color":"#620000","opacity":1,"interpolate":"monotone","line":{"color":"#620000","strokeWidth":1.5}},"encoding":{"x":{"field":"s","type":"quantitative","scale":{"domain":[-0.5625,4.5859],"nice":false,"zero":false},"axis":null},"y":{"field":"p","type":"quantitative","scale":{"domain":[-1.4752,1.8317],"nice":false,"zero":false},"axis":null},"y2":{"datum":0}}}
]},
{"layer":[
{"data":{"values":[{}]},"mark":{"type":"rect","fill":"white","stroke":"#707070","strokeWidth":1.5},"encoding":{"x":{"datum":0,"type":"quantitative","scale":{"domain":[-1.042,3.5664],"nice":false,"zero":false},"axis":null},"x2":{"datum":1},"y":{"datum":0,"type":"quantitative","scale":{"domain":[-0.6991,2.2566],"nice":false,"zero":false},"axis":null},"y2":{"datum":1}}},
{"data":{"name":"dists"},"transform":[{"filter":"datum.d === 'A2'"}],"mark":{"type":"area","color":"#000000","opacity":1,"interpolate":"monotone","line":{"color":"#000000","strokeWidth":1.5}},"encoding":{"x":{"field":"s","type":"quantitative","scale":{"domain":[-1.042,3.5664],"nice":false,"zero":false},"axis":null},"y":{"field":"p","type":"quantitative","scale":{"domain":[-0.6991,2.2566],"nice":false,"zero":false},"axis":null},"y2":{"datum":0}}}
]},
{"layer":[
{"data":{"values":[{}]},"mark":{"type":"rect","fill":"white","stroke":"#707070","strokeWidth":1.5},"encoding":{"x":{"datum":0,"type":"quantitative","scale":{"domain":[-4.0588,1.479],"nice":false,"zero":false},"axis":null},"x2":{"datum":1},"y":{"datum":0,"type":"quantitative","scale":{"domain":[-2.043,1.5484],"nice":false,"zero":false},"axis":null},"y2":{"datum":1}}},
{"data":{"name":"dists"},"transform":[{"filter":"datum.d === 'B0'"}],"mark":{"type":"area","color":"#007800","opacity":1,"interpolate":"monotone","line":{"color":"#007800","strokeWidth":1.5}},"encoding":{"x":{"field":"s","type":"quantitative","scale":{"domain":[-4.0588,1.479],"nice":false,"zero":false},"axis":null},"y":{"field":"p","type":"quantitative","scale":{"domain":[-2.043,1.5484],"nice":false,"zero":false},"axis":null},"y2":{"datum":0}}}
]},
{"layer":[
{"data":{"values":[{}]},"mark":{"type":"rect","fill":"white","stroke":"#707070","strokeWidth":1.5},"encoding":{"x":{"datum":0,"type":"quantitative","scale":{"domain":[-3.2326,1.876],"nice":false,"zero":false},"axis":null},"x2":{"datum":1},"y":{"datum":0,"type":"quantitative","scale":{"domain":[-1.4118,1.8627],"nice":false,"zero":false},"axis":null},"y2":{"datum":1}}},
{"data":{"name":"dists"},"transform":[{"filter":"datum.d === 'B1e'"}],"mark":{"type":"area","color":"#2c6347","opacity":1,"interpolate":"monotone","line":{"color":"#2c6347","strokeWidth":1.5}},"encoding":{"x":{"field":"s","type":"quantitative","scale":{"domain":[-3.2326,1.876],"nice":false,"zero":false},"axis":null},"y":{"field":"p","type":"quantitative","scale":{"domain":[-1.4118,1.8627],"nice":false,"zero":false},"axis":null},"y2":{"datum":0}}}
]},
{"layer":[
{"data":{"values":[{}]},"mark":{"type":"rect","fill":"white","stroke":"#707070","strokeWidth":1.5},"encoding":{"x":{"datum":0,"type":"quantitative","scale":{"domain":[-2.3357,2.3714],"nice":false,"zero":false},"axis":null},"x2":{"datum":1},"y":{"datum":0,"type":"quantitative","scale":{"domain":[-0.7207,2.2883],"nice":false,"zero":false},"axis":null},"y2":{"datum":1}}},
{"data":{"name":"dists"},"transform":[{"filter":"datum.d === 'B2e'"}],"mark":{"type":"area","color":"#000000","opacity":1,"interpolate":"monotone","line":{"color":"#000000","strokeWidth":1.5}},"encoding":{"x":{"field":"s","type":"quantitative","scale":{"domain":[-2.3357,2.3714],"nice":false,"zero":false},"axis":null},"y":{"field":"p","type":"quantitative","scale":{"domain":[-0.7207,2.2883],"nice":false,"zero":false},"axis":null},"y2":{"datum":0}}}
]},
{"layer":[
{"data":{"name":"arrows"},"transform":[{"filter":"datum.g === 'e' && datum.kind === 'shaft'"}],"mark":{"type":"rule","color":"black","strokeWidth":3.5,"strokeCap":"round"},"encoding":{"x":{"field":"x","type":"quantitative","scale":{"domain":[-0.114,5.6667],"nice":false,"zero":false},"axis":null},"y":{"field":"y","type":"quantitative","scale":{"domain":[-2.2111,1.5],"nice":false,"zero":false},"axis":null},"x2":{"field":"x2"},"y2":{"field":"y2"}}},
{"data":{"name":"arrows"},"transform":[{"filter":"datum.g === 'e' && datum.dir === 'up'"}],"mark":{"type":"point","shape":"triangle-up","filled":true,"color":"black","size":324,"opacity":1},"encoding":{"x":{"field":"x","type":"quantitative","scale":{"domain":[-0.114,5.6667],"nice":false,"zero":false},"axis":null},"y":{"field":"y","type":"quantitative","scale":{"domain":[-2.2111,1.5],"nice":false,"zero":false},"axis":null}}},
{"data":{"name":"arrows"},"transform":[{"filter":"datum.g === 'e' && datum.dir === 'dr'"}],"mark":{"type":"point","shape":"triangle-up","filled":true,"color":"black","size":324,"opacity":1,"angle":130.7},"encoding":{"x":{"field":"x","type":"quantitative","scale":{"domain":[-0.114,5.6667],"nice":false,"zero":false},"axis":null},"y":{"field":"y","type":"quantitative","scale":{"domain":[-2.2111,1.5],"nice":false,"zero":false},"axis":null}}},
{"data":{"name":"arrows"},"transform":[{"filter":"datum.g === 'e' && datum.dir === 'dl'"}],"mark":{"type":"point","shape":"triangle-up","filled":true,"color":"black","size":324,"opacity":1,"angle":229.4},"encoding":{"x":{"field":"x","type":"quantitative","scale":{"domain":[-0.114,5.6667],"nice":false,"zero":false},"axis":null},"y":{"field":"y","type":"quantitative","scale":{"domain":[-2.2111,1.5],"nice":false,"zero":false},"axis":null}}},
{"data":{"name":"labels"},"transform":[{"filter":"datum.g === 'e'"}],"mark":{"type":"text","text":"X0","align":"left","baseline":"alphabetic","font":"DejaVu Sans","fontWeight":"bold","fontSize":24},"encoding":{"x":{"field":"x","type":"quantitative","scale":{"domain":[-0.114,5.6667],"nice":false,"zero":false},"axis":null},"y":{"field":"y","type":"quantitative","scale":{"domain":[-2.2111,1.5],"nice":false,"zero":false},"axis":null},"color":{"field":"k","type":"nominal","scale":{"domain":["1","2","3"],"range":["#ff0000","#009a00","#333399"]},"legend":null}}},
{"data":{"name":"labels"},"transform":[{"filter":"datum.g === 'e'"}],"mark":{"type":"text","align":"left","baseline":"alphabetic","font":"DejaVu Sans","fontWeight":"bold","fontSize":16.5,"dx":35.1,"dy":6.5},"encoding":{"x":{"field":"x","type":"quantitative","scale":{"domain":[-0.114,5.6667],"nice":false,"zero":false},"axis":null},"y":{"field":"y","type":"quantitative","scale":{"domain":[-2.2111,1.5],"nice":false,"zero":false},"axis":null},"text":{"field":"k"},"color":{"field":"k","type":"nominal","scale":{"domain":["1","2","3"],"range":["#ff0000","#009a00","#333399"]},"legend":null}}},
{"data":{"name":"texts"},"transform":[{"filter":"datum.g === 'e' && datum.kind === 'time'"}],"mark":{"type":"text","align":"left","baseline":"alphabetic","font":"DejaVu Sans","fontSize":25,"color":"black"},"encoding":{"x":{"field":"x","type":"quantitative","scale":{"domain":[-0.114,5.6667],"nice":false,"zero":false},"axis":null},"y":{"field":"y","type":"quantitative","scale":{"domain":[-2.2111,1.5],"nice":false,"zero":false},"axis":null},"text":{"field":"text"}}},
{"data":{"name":"texts"},"transform":[{"filter":"datum.g === 'e' && datum.kind === 'caption'"}],"mark":{"type":"text","align":"left","baseline":"alphabetic","font":"DejaVu Sans","fontSize":27.5,"color":"black"},"encoding":{"x":{"field":"x","type":"quantitative","scale":{"domain":[-0.114,5.6667],"nice":false,"zero":false},"axis":null},"y":{"field":"y","type":"quantitative","scale":{"domain":[-2.2111,1.5],"nice":false,"zero":false},"axis":null},"text":{"field":"text"}}}
]}
]}
]}
]
}
